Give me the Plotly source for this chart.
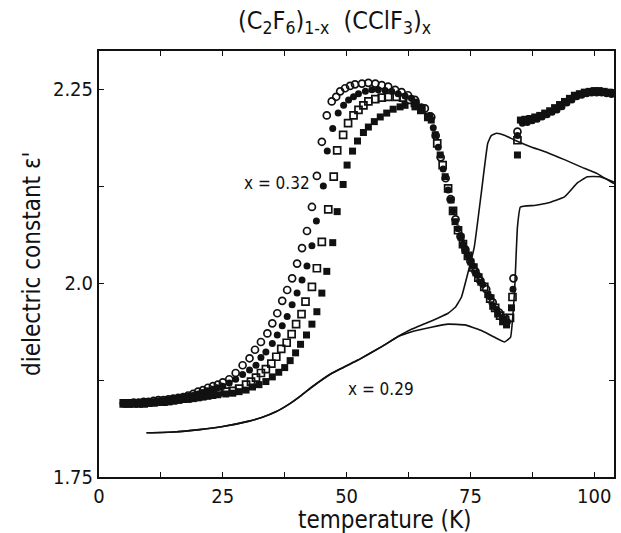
import plotly.graph_objects as go

# dielectric constant vs temperature, (C2F6)1-x (CClF3)x

# open circles
t_oc = [5, 6, 7, 8, 9, 10, 11, 12, 13, 14, 15, 16, 17, 18, 19, 20, 21, 22, 23, 24,
        25.0, 26.3, 27.6, 29.0, 30.4, 31.5, 32.7, 34.0, 35.0, 36.0, 37.0, 38.0, 39.0,
        40.0, 41.0, 42.0, 43.0, 44.0, 45.0, 46.0, 47.0, 47.9, 48.7, 49.7, 50.7, 51.7,
        53.1, 54.4, 55.8, 57.1, 58.4, 59.8, 61.1, 62.4, 63.8, 65.8, 67.1,
        68.0, 69.0, 70.0, 71.0, 72.0, 73.0, 74.0, 75.0, 76.0, 77.0, 78.2, 79.5, 80.8,
        82.0, 83.7, 84.5]
e_oc = [1.845, 1.845, 1.846, 1.846, 1.847, 1.847, 1.848, 1.849, 1.849, 1.850, 1.851,
        1.852, 1.853, 1.855, 1.857, 1.860, 1.862, 1.865, 1.867, 1.869,
        1.872, 1.876, 1.884, 1.894, 1.903, 1.914, 1.924, 1.935, 1.948, 1.961, 1.977,
        1.991, 2.006, 2.025, 2.045, 2.067, 2.098, 2.138, 2.182, 2.216, 2.234, 2.240,
        2.247, 2.251, 2.254, 2.256, 2.257, 2.258, 2.257, 2.255, 2.253, 2.249, 2.246,
        2.242, 2.236, 2.225, 2.214,
        2.190, 2.162, 2.135, 2.108, 2.082, 2.060, 2.043, 2.028, 2.015, 2.003, 1.992,
        1.975, 1.962, 1.955, 2.006, 2.195]

# filled circles
t_fc = [5, 6, 7, 8, 9, 10, 11, 12, 13, 14, 15, 16, 17, 18, 19, 20, 21, 22, 23, 24,
        25.0, 26.3, 27.6, 29.0, 30.4, 31.7, 32.7, 33.7, 35.0, 36.0, 37.0, 38.0, 39.0,
        40.0, 41.0, 42.0, 43.0, 43.9, 45.3, 46.1, 47.2, 48.3, 49.4, 50.4, 51.4, 52.4,
        53.8, 55.1, 56.4, 57.8, 59.1, 60.4, 61.8, 63.1, 64.1, 65.1, 66.8,
        67.5, 68.5, 69.5, 70.5, 71.5, 72.5, 73.5, 74.5, 75.5, 76.5, 77.5, 79.0, 80.3,
        81.5, 82.5, 83.6, 84.5,
        85.5, 86.5, 87.5, 88.5, 89.5, 90.5, 91.5, 92.5, 93.5, 94.5, 95.5, 96.5, 97.5,
        98.5, 99.5, 100.5, 101.5, 102.5, 103.5]
e_fc = [1.845, 1.845, 1.845, 1.845, 1.845, 1.846, 1.846, 1.847, 1.848, 1.849, 1.850,
        1.851, 1.852, 1.854, 1.855, 1.857, 1.859, 1.861, 1.863, 1.865,
        1.867, 1.871, 1.876, 1.882, 1.888, 1.894, 1.904, 1.911, 1.922, 1.933, 1.945,
        1.957, 1.972, 1.987, 2.004, 2.022, 2.048, 2.080, 2.125, 2.170, 2.199, 2.219,
        2.229, 2.236, 2.240, 2.244, 2.247, 2.249, 2.249, 2.248, 2.247, 2.244, 2.241,
        2.238, 2.233, 2.227, 2.216,
        2.200, 2.175, 2.147, 2.120, 2.093, 2.070, 2.050, 2.035, 2.022, 2.010, 1.998,
        1.982, 1.966, 1.955, 1.950, 1.992, 2.190,
        2.206, 2.207, 2.209, 2.211, 2.214, 2.217, 2.220, 2.223, 2.227, 2.232, 2.236,
        2.240, 2.242, 2.244, 2.245, 2.245, 2.245, 2.244, 2.243]

# open squares
t_os = [5, 6, 7, 8, 9, 10, 11, 12, 13, 14, 15, 16, 17, 18, 19, 20, 21, 22, 23, 24,
        25.7, 27.0, 28.3, 29.7, 30.7, 31.7, 32.7, 33.7, 34.8, 35.8, 36.8, 37.9, 38.9,
        39.8, 40.9, 41.7, 43.0, 44.0, 45.0, 46.3, 47.4, 48.1, 49.3, 50.3, 51.4, 52.4,
        53.4, 54.4, 55.8, 57.1, 58.4, 60.1, 61.4, 62.6, 63.8, 65.1, 66.5,
        68.3, 69.4, 70.5, 71.5, 72.5, 73.5, 74.5, 75.6, 76.6, 77.8, 79.0, 80.0, 81.0,
        82.0, 83.0, 83.5, 84.5]
e_os = [1.845, 1.845, 1.845, 1.845, 1.845, 1.846, 1.846, 1.847, 1.847, 1.848, 1.849,
        1.850, 1.851, 1.852, 1.853, 1.854, 1.855, 1.857, 1.858, 1.859,
        1.860, 1.861, 1.864, 1.869, 1.873, 1.878, 1.884, 1.889, 1.896, 1.905, 1.915,
        1.923, 1.934, 1.947, 1.960, 1.976, 1.995, 2.019, 2.053, 2.095, 2.137, 2.171,
        2.191, 2.206, 2.216, 2.223, 2.229, 2.234, 2.237, 2.239, 2.240, 2.240, 2.239,
        2.236, 2.232, 2.223, 2.214,
        2.180, 2.152, 2.122, 2.093, 2.068, 2.050, 2.035, 2.020, 2.007, 1.995, 1.980,
        1.968, 1.958, 1.952, 1.955, 1.982, 2.184]

# filled squares
t_fs = [5, 6, 7, 8, 9, 10, 11, 12, 13, 14, 15, 16, 17, 18, 19, 20, 21, 22, 23, 24,
        25.6, 27.0, 28.3, 29.7, 31.0, 32.3, 33.7, 35.0, 36.3, 37.5, 38.6, 39.7, 40.7,
        41.9, 43.0, 44.0, 45.0, 46.0, 47.2, 48.1, 49.3, 50.1, 51.2, 52.2, 53.4, 54.4,
        55.6, 56.8, 58.1, 59.4, 60.8, 61.8, 63.8, 65.1, 66.5, 67.1,
        67.9, 68.9, 69.9, 71.1, 71.9, 73.1, 73.9, 75.1, 76.1, 77.1, 78.5, 79.5, 80.5,
        81.5, 82.3, 83.3, 84.5,
        85.1, 86.0, 87.0, 88.0, 89.0, 90.0, 91.0, 92.0, 93.0, 94.0, 95.0, 96.0, 97.0,
        98.0, 99.0, 100.0, 101.0, 102.0, 103.0, 104.0]
e_fs = [1.845, 1.845, 1.845, 1.845, 1.845, 1.845, 1.846, 1.846, 1.847, 1.847, 1.848,
        1.849, 1.850, 1.850, 1.851, 1.852, 1.853, 1.854, 1.855, 1.856,
        1.857, 1.858, 1.860, 1.862, 1.866, 1.869, 1.873, 1.879, 1.885, 1.891, 1.900,
        1.910, 1.921, 1.933, 1.947, 1.963, 1.987, 2.015, 2.052, 2.092, 2.127, 2.152,
        2.170, 2.183, 2.194, 2.201, 2.208, 2.214, 2.219, 2.224, 2.227, 2.229, 2.227,
        2.223, 2.214, 2.210,
        2.191, 2.165, 2.137, 2.107, 2.079, 2.059, 2.042, 2.027, 2.013, 2.001, 1.985,
        1.970, 1.960, 1.950, 1.946, 1.968, 2.165,
        2.210, 2.211, 2.212, 2.214, 2.216, 2.219, 2.222, 2.226, 2.230, 2.234, 2.238,
        2.242, 2.244, 2.246, 2.247, 2.248, 2.248, 2.247, 2.246, 2.245]

# x = 0.29 solid curves (two branches sharing the low-T part)
t_line_a = [9.6, 15, 20.3, 25, 30.3, 33, 35.7, 38.4, 40.4, 43.0, 47.1, 52.4, 57.1,
            60.4, 63, 66, 68.5, 70.5, 72.0, 73.2, 74.5, 75.8, 77.2, 78.5, 79.2, 80.3,
            82, 84, 87, 90.6, 94, 97.2, 100.6, 104]
e_line_a = [1.807, 1.808, 1.811, 1.815, 1.822, 1.827, 1.834, 1.844, 1.853, 1.866,
            1.884, 1.901, 1.918, 1.931, 1.940, 1.948, 1.955, 1.961, 1.969, 1.982,
            2.013, 2.047, 2.116, 2.180, 2.190, 2.193, 2.190, 2.184, 2.176, 2.168,
            2.159, 2.150, 2.141, 2.128]
t_line_b = [9.6, 15, 20.3, 25, 30.3, 33, 35.7, 38.4, 40.4, 43.0, 47.1, 52.4, 57.1,
            60.4, 63, 67.1, 70.5, 73.9, 77.1, 79.9, 81.9, 83.1, 83.9, 84.5, 85.1,
            87.9, 90.6, 94, 96.6, 98.6, 101.2, 104]
e_line_b = [1.807, 1.808, 1.811, 1.815, 1.822, 1.827, 1.834, 1.844, 1.853, 1.866,
            1.884, 1.901, 1.918, 1.931, 1.937, 1.943, 1.947, 1.946, 1.939, 1.930,
            1.924, 1.930, 1.987, 2.072, 2.098, 2.100, 2.103, 2.111, 2.129, 2.137,
            2.137, 2.130]

x_ticks = [0, 12.5, 25, 37.5, 50, 62.5, 75, 87.5, 100]
x_labels = ["0", "", "25", "", "50", "", "75", "", "100"]
y_ticks = [1.75, 1.875, 2.0, 2.125, 2.25]
y_labels = ["1.75", "", "2.0", "", "2.25"]

FONT = "Liberation Sans Narrow, DejaVu Sans Condensed, Liberation Sans, Arial"
INK = "#111111"

fig = go.Figure()

for tt, ee in [(t_line_a, e_line_a), (t_line_b, e_line_b)]:
    fig.add_trace(go.Scatter(x=tt, y=ee, mode="lines",
                             line=dict(color=INK, width=1.6, shape="spline", smoothing=0.3)))

fig.add_trace(go.Scatter(x=t_oc, y=e_oc, mode="markers",
                         marker=dict(symbol="circle-open", size=7, color=INK,
                                     line=dict(width=1.7, color=INK))))
fig.add_trace(go.Scatter(x=t_fc, y=e_fc, mode="markers",
                         marker=dict(symbol="circle", size=7, color=INK)))
fig.add_trace(go.Scatter(x=t_os, y=e_os, mode="markers",
                         marker=dict(symbol="square-open", size=7, color=INK,
                                     line=dict(width=1.7, color=INK))))
fig.add_trace(go.Scatter(x=t_fs, y=e_fs, mode="markers",
                         marker=dict(symbol="square", size=7, color=INK)))

fig.add_annotation(x=28.9, y=2.129, text="x = 0.32", showarrow=False,
                   xanchor="left", yanchor="middle", font=dict(size=17, color=INK, family=FONT))
fig.add_annotation(x=49.8, y=1.863, text="x = 0.29", showarrow=False,
                   xanchor="left", yanchor="middle", font=dict(size=17, color=INK, family=FONT))
fig.add_annotation(x=0.457, y=1.0, xref="paper", yref="paper", yshift=29,
                   text="(C<sub>2</sub>F<sub>6</sub>)<sub>1-x</sub>  (CClF<sub>3</sub>)<sub>x</sub>",
                   showarrow=False, xanchor="center", yanchor="middle",
                   font=dict(size=25, color=INK, family=FONT))
# axis titles placed by hand
fig.add_annotation(x=0.555, y=0, xref="paper", yref="paper", yshift=-43,
                   text="temperature (K)", showarrow=False,
                   xanchor="center", yanchor="middle",
                   font=dict(size=24, color=INK, family=FONT))
fig.add_annotation(x=0, y=0.5, xref="paper", yref="paper", xshift=-67,
                   text="dielectric constant ε'", showarrow=False, textangle=-90,
                   xanchor="center", yanchor="middle",
                   font=dict(size=24, color=INK, family=FONT))

axis_common = dict(showgrid=False, zeroline=False, showline=True, linecolor=INK,
                   linewidth=2, mirror="ticks", ticks="inside", ticklen=5,
                   tickwidth=1.3, tickcolor=INK,
                   tickfont=dict(size=20, color=INK, family=FONT))

fig.update_xaxes(range=[0, 104], tickvals=x_ticks, ticktext=x_labels, **axis_common)
fig.update_yaxes(range=[1.75, 2.299], tickvals=y_ticks, ticktext=y_labels, **axis_common)

fig.update_layout(width=621, height=533, showlegend=False,
                  margin=dict(l=99, r=5, t=51, b=56),
                  plot_bgcolor="white", paper_bgcolor="white")

# drop the page's default body margin so the figure sits at the window corner
fig.write_html("out.html", config={"displayModeBar": False},
               post_script="document.body.style.margin='0px';")
